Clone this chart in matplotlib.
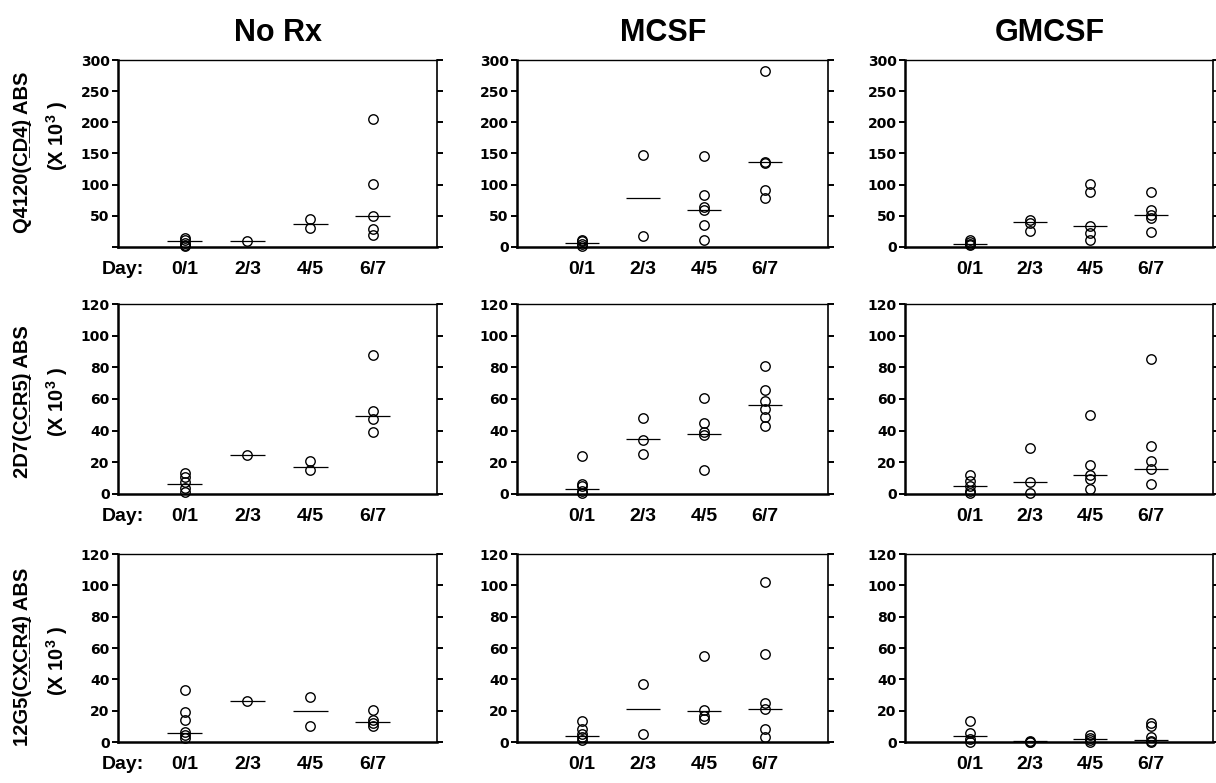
import matplotlib
matplotlib.use("Agg")
import matplotlib.pyplot as plt

days = ["0/1", "2/3", "4/5", "6/7"]
treatments = ["No Rx", "MCSF", "GMCSF"]
antibodies = ["Q4120", "2D7", "12G5"]
targets = ["CD4", "CCR5", "CXCR4"]

# values per day group (x 10^3)
norx_cd4 = [[14, 11, 7, 4, 2], [9], [45, 30], [205, 101, 50, 29, 20]]
norx_cd4_med = [9, 9, 37, 50]
mcsf_cd4 = [[12, 9, 5, 2], [148, 18], [146, 83, 64, 59, 35, 12], [283, 137, 135, 92, 79]]
mcsf_cd4_med = [7, 79, 60, 136]
gmcsf_cd4 = [[12, 8, 5, 3], [43, 39, 25], [101, 89, 33, 23, 12], [88, 60, 52, 47, 24]]
gmcsf_cd4_med = [5, 40, 33, 52]

norx_ccr5 = [[13, 11, 7.5, 4, 1.5], [24.5], [21, 15], [88, 52.5, 47.5, 39]]
norx_ccr5_med = [6, 24.5, 17, 49.5]
mcsf_ccr5 = [[24, 6.5, 5, 2, 0.5], [48, 34, 25], [60.5, 45, 39, 37.5, 15], [81, 66, 59, 54, 48.5, 43]]
mcsf_ccr5_med = [3, 34.5, 38, 56]
gmcsf_ccr5 = [[12, 8, 5, 2, 0.5], [29, 7.5, 0.5], [50, 18.5, 12, 9.5, 3], [85, 30, 21, 16, 6]]
gmcsf_ccr5_med = [5, 7.5, 12, 16]

norx_cxcr4 = [[33.5, 19, 14, 6.5, 4.5, 2.5], [26], [29, 10], [20.5, 14, 12, 10]]
norx_cxcr4_med = [6, 26, 20, 13]
mcsf_cxcr4 = [[13.5, 8.5, 5, 3, 1.5], [37, 5], [55, 20.5, 16.5, 14.5], [102, 56, 25, 21, 8.5, 3]]
mcsf_cxcr4_med = [4, 21, 19.5, 21]
gmcsf_cxcr4 = [[13.5, 5.5, 2, 0], [0.5, 0, 0], [4.5, 2.5, 1, 0], [12, 10, 3, 0.5, 0]]
gmcsf_cxcr4_med = [4, 0.5, 2, 1.5]

row_ymax = [300, 120, 120]
row_ystep = [50, 20, 20]

W, H = 1216, 783


def underline(s):
    # combining low line under every character
    return "".join(c + "\u0332" for c in s)


def plot_panels():
    plt.rcParams['font.family'] = ['Liberation Sans', 'DejaVu Sans']
    plt.rcParams['font.weight'] = 'bold'
    plt.rcParams['mathtext.fontset'] = 'custom'
    plt.rcParams['mathtext.rm'] = 'Liberation Sans:bold'
    plt.rcParams['mathtext.bf'] = 'Liberation Sans:bold'
    plt.rcParams['mathtext.default'] = 'bf'

    fig = plt.figure(figsize=(W / 100, H / 100), dpi=100)

    data = [[norx_cd4, mcsf_cd4, gmcsf_cd4],
            [norx_ccr5, mcsf_ccr5, gmcsf_ccr5],
            [norx_cxcr4, mcsf_cxcr4, gmcsf_cxcr4]]
    meds = [[norx_cd4_med, mcsf_cd4_med, gmcsf_cd4_med],
            [norx_ccr5_med, mcsf_ccr5_med, gmcsf_ccr5_med],
            [norx_cxcr4_med, mcsf_cxcr4_med, gmcsf_cxcr4_med]]

    # pixel boxes of the panels (left, right) and (top, bottom)
    cols_px = [(118, 437), (517, 828), (905, 1213)]
    rows_px = [(60, 247), (304, 494), (554, 742)]
    label1_y = [152, 402, 657]
    label2_y = [136, 402, 661]

    for r in range(3):
        top, bot = rows_px[r]
        for c in range(3):
            left, right = cols_px[c]
            ax = fig.add_axes([left / W, 1 - bot / H, (right - left) / W, (bot - top) / H])
            for i, vals in enumerate(data[r][c]):
                x = i + 1
                ax.plot([x] * len(vals), vals, 'o', mfc='none', mec='black',
                        ms=6.8, mew=1.0, clip_on=False, zorder=3)
                ax.hlines(meds[r][c][i], x - 0.28, x + 0.28, color='black', lw=0.9, zorder=2)

            ax.set_xlim(-0.07, 5.03)
            ax.set_ylim(0, row_ymax[r])
            yt = list(range(0, row_ymax[r] + 1, row_ystep[r]))
            ax.set_yticks(yt)
            if r == 0 and c == 0:
                ax.set_yticklabels([""] + [str(v) for v in yt[1:]])
            else:
                ax.set_yticklabels([str(v) for v in yt])

            if c == 0:
                ax.set_xticks([0, 1, 2, 3, 4])
                ax.set_xticklabels(["Day:"] + days)
            else:
                ax.set_xticks([1, 2, 3, 4])
                ax.set_xticklabels(days)

            ax.tick_params(axis='x', length=0, pad=10, labelsize=14)
            ax.tick_params(axis='y', direction='out', length=4, width=1.4, pad=2,
                           labelsize=10, right=True)
            for lab in ax.get_xticklabels():
                lab.set_fontweight('bold')
            for lab in ax.get_yticklabels():
                lab.set_fontweight('bold')
                lab.set_fontfamily('DejaVu Sans')

            ax.spines['left'].set_linewidth(1.8)
            ax.spines['bottom'].set_linewidth(1.8)
            ax.spines['top'].set_linewidth(1.0)
            ax.spines['right'].set_linewidth(1.2)

            if r == 0:
                ax.set_title(treatments[c], fontsize=22, fontweight='bold', pad=14,
                             x=0.5 if c == 0 else 0.47)

        # two-line y label of the row
        line1 = antibodies[r] + "(" + underline(targets[r]) + ") ABS"
        fig.text(23 / W, 1 - label1_y[r] / H, line1, rotation=90, ha='center', va='center',
                 fontsize=14.5, fontweight='bold')
        fig.text(57 / W, 1 - label2_y[r] / H, r"(X 10$^{3}$ )", rotation=90, ha='center',
                 va='center', fontsize=14.5, fontweight='bold')

    plt.savefig("out.png", dpi=100)


if __name__ == '__main__':
    plot_panels()
